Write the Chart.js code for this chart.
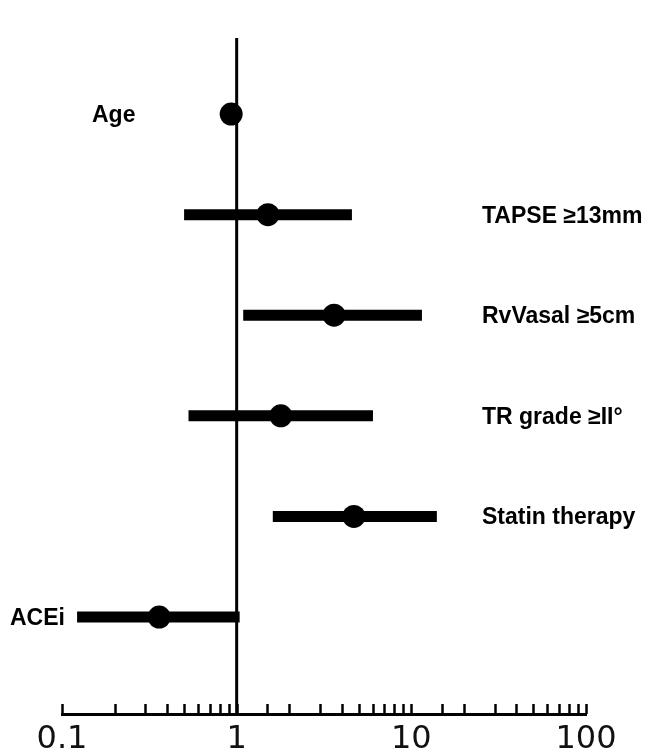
<!DOCTYPE html>
<html>
<head>
<meta charset="utf-8">
<script src="https://cdn.jsdelivr.net/npm/chart.js@4.4.1/dist/chart.umd.min.js"></script>
<style>
  html, body { margin: 0; padding: 0; background: #fff; }
  #wrap { width: 648px; height: 753px; }
</style>
</head>
<body>
<div id="wrap"><canvas id="c" width="648" height="753"></canvas></div>
<script>
// ---- data ----
const categories = ['Age', 'TAPSE ≥13mm', 'RvVasal ≥5cm', 'TR grade ≥II°', 'Statin therapy', 'ACEi'];
const estimates  = [0.93, 1.51, 3.61, 1.79, 4.69, 0.36];
const lowerCI    = [0.90, 0.50, 1.09, 0.53, 1.61, 0.122];
const upperCI    = [0.96, 4.57, 11.5, 6.03, 14.0, 1.04];
const tickValues = [0.1, 1, 10, 100];
const tickLabels = ['0.1', '1', '10', '100'];
const referenceValue = 1;

const n = categories.length;
const rowY = categories.map((_, i) => n - i);

const datasets = [];
datasets.push({
  type: 'scatter',
  data: estimates.map((v, i) => ({ x: v, y: rowY[i] })),
  pointRadius: 11.5,
  pointHoverRadius: 11.5,
  pointBackgroundColor: '#000',
  pointBorderWidth: 0,
  showLine: false
});
categories.forEach((c, i) => {
  datasets.push({
    type: 'line',
    data: [{ x: lowerCI[i], y: rowY[i] }, { x: upperCI[i], y: rowY[i] }],
    borderColor: '#000',
    borderWidth: 11,
    borderCapStyle: 'butt',
    pointRadius: 0,
    fill: false
  });
});

const forestPlugin = {
  id: 'forest',
  beforeDatasetsDraw(chart, args, opts) {
    const ctx = chart.ctx;
    const xs = chart.scales.x;
    const area = chart.chartArea;
    // reference line at 1
    const x1 = xs.getPixelForValue(referenceValue);
    ctx.save();
    ctx.strokeStyle = '#000';
    ctx.lineWidth = 3;
    ctx.beginPath();
    ctx.moveTo(x1, area.top);
    ctx.lineTo(x1, area.bottom);
    ctx.stroke();
    // tick marks pointing up from the axis
    ctx.lineWidth = 2.5;
    xs.ticks.forEach(t => {
      const px = Math.round(xs.getPixelForValue(t.value)) + 0.5;
      ctx.beginPath();
      ctx.moveTo(px, area.bottom);
      ctx.lineTo(px, area.bottom - 10);
      ctx.stroke();
    });
    ctx.restore();
  },
  afterDatasetsDraw(chart, args, opts) {
    const ctx = chart.ctx;
    const ys = chart.scales.y;
    ctx.save();
    ctx.fillStyle = '#000';
    ctx.font = 'bold 23px "Liberation Sans", Arial, sans-serif';
    ctx.textAlign = 'left';
    ctx.textBaseline = 'alphabetic';
    categories.forEach((c, i) => {
      const py = ys.getPixelForValue(rowY[i]);
      ctx.fillText(c, opts.labelX[i], py + 8);
    });
    ctx.restore();
  }
};

new Chart(document.getElementById('c'), {
  data: { datasets },
  options: {
    responsive: false,
    animation: false,
    devicePixelRatio: 1,
    layout: { padding: { left: 62, right: 62, top: 38, bottom: 0 } },
    plugins: {
      legend: { display: false },
      tooltip: { enabled: false },
      forest: { labelX: [92, 482, 482, 482, 482, 10] }
    },
    scales: {
      x: {
        type: 'logarithmic',
        min: 0.1,
        max: 100,
        position: 'bottom',
        grid: { display: false, drawTicks: false },
        border: { display: true, color: '#000', width: 3 },
        afterFit: function (scale) { scale.height = 39; },
        ticks: {
          autoSkip: false,
          maxRotation: 0,
          minRotation: 0,
          padding: 10,
          color: '#111',
          font: { family: '"DejaVu Sans"', size: 32, lineHeight: 1 },
          callback: function (v) {
            const idx = tickValues.findIndex(t => Math.abs(Math.log10(t) - Math.log10(v)) < 1e-6);
            return idx >= 0 ? tickLabels[idx] : '';
          }
        }
      },
      y: {
        type: 'linear',
        display: false,
        min: 0.036,
        max: 6.756
      }
    }
  },
  plugins: [forestPlugin]
});
</script>
</body>
</html>
